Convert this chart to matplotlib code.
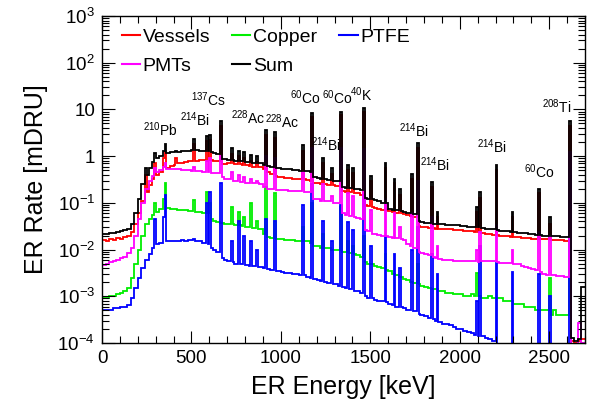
import numpy as np
import matplotlib

matplotlib.use("Agg")

import matplotlib.pyplot as plt
from matplotlib.ticker import FuncFormatter, LogLocator, MultipleLocator, NullFormatter

plt.rcParams["font.family"] = ["Liberation Sans", "DejaVu Sans"]
plt.rcParams["mathtext.fontset"] = "custom"
plt.rcParams["mathtext.rm"] = "Liberation Sans"
plt.rcParams["mathtext.it"] = "Liberation Sans:italic"
plt.rcParams["mathtext.bf"] = "Liberation Sans:bold"

BIN_KEV = 10
E_MAX = 2700

# continuum rates [mDRU], one value per 20 keV (two histogram bins each)
SUM_CONT = [
    0.022, 0.022, 0.023, 0.023, 0.024, 0.025, 0.026, 0.028, 0.035, 0.06,
    0.12, 0.25, 0.4, 0.55, 0.75, 0.9, 1.0, 1.1, 1.15, 1.2,
    1.22, 1.25, 1.27, 1.3, 1.32, 1.33, 1.33, 1.32, 1.3, 1.28,
    1.22, 1.15, 1.1, 0.88, 0.85, 0.82, 0.82, 0.8, 0.8, 0.78,
    0.76, 0.75, 0.72, 0.72, 0.7, 0.66, 0.62, 0.6, 0.56, 0.55,
    0.54, 0.53, 0.52, 0.5, 0.5, 0.49, 0.48, 0.47, 0.46, 0.36,
    0.34, 0.33, 0.32, 0.31, 0.3, 0.3, 0.29, 0.22, 0.21, 0.21,
    0.2, 0.2, 0.19, 0.13, 0.12, 0.12, 0.115, 0.11, 0.1, 0.1,
    0.075, 0.072, 0.07, 0.068, 0.065, 0.062, 0.06, 0.058, 0.04, 0.038,
    0.037, 0.037, 0.036, 0.036, 0.035, 0.035, 0.034, 0.034, 0.033, 0.033,
    0.032, 0.032, 0.031, 0.031, 0.03, 0.03, 0.029, 0.028, 0.028, 0.027,
    0.026, 0.025, 0.025, 0.025, 0.024, 0.024, 0.023, 0.023, 0.023, 0.022,
    0.022, 0.021, 0.021, 0.02, 0.02, 0.02, 0.02, 0.02, 0.019, 0.019,
    0.019, 0.00013, 0.00011, 0.00012, 0.0016,
]
VESSELS_CONT = [
    0.016, 0.015, 0.017, 0.016, 0.018, 0.017, 0.019, 0.02, 0.024, 0.035,
    0.06, 0.11, 0.17, 0.24, 0.32, 0.4, 0.46, 0.52, 0.57, 0.62,
    0.66, 0.7, 0.72, 0.75, 0.77, 0.79, 0.8, 0.82, 0.83, 0.84,
    0.83, 0.8, 0.78, 0.68, 0.68, 0.7, 0.7, 0.68, 0.68, 0.66,
    0.65, 0.62, 0.6, 0.6, 0.58, 0.52, 0.45, 0.42, 0.38, 0.36,
    0.35, 0.34, 0.34, 0.33, 0.33, 0.32, 0.32, 0.31, 0.3, 0.27,
    0.26, 0.25, 0.25, 0.24, 0.24, 0.23, 0.23, 0.18, 0.17, 0.17,
    0.16, 0.16, 0.15, 0.09, 0.085, 0.08, 0.078, 0.075, 0.072, 0.07,
    0.066, 0.064, 0.062, 0.06, 0.058, 0.055, 0.052, 0.05, 0.032, 0.03,
    0.03, 0.029, 0.029, 0.028, 0.028, 0.028, 0.027, 0.027, 0.026, 0.026,
    0.026, 0.025, 0.025, 0.025, 0.024, 0.024, 0.023, 0.022, 0.022, 0.021,
    0.021, 0.02, 0.02, 0.02, 0.019, 0.019, 0.019, 0.018, 0.018, 0.018,
    0.017, 0.017, 0.017, 0.017, 0.017, 0.016, 0.016, 0.016, 0.016, 0.015,
    0.015, 0.00011, 0.0001, 0.00011, 0.00012,
]
PMTS_CONT = [
    0.0047, 0.005, 0.0053, 0.0056, 0.006, 0.0065, 0.007, 0.0085, 0.011, 0.02,
    0.045, 0.1, 0.2, 0.3, 0.38, 0.45, 0.5, 0.52, 0.53, 0.53,
    0.52, 0.52, 0.51, 0.5, 0.5, 0.49, 0.48, 0.47, 0.46, 0.45,
    0.44, 0.44, 0.43, 0.35, 0.33, 0.32, 0.3, 0.29, 0.28, 0.28,
    0.27, 0.27, 0.26, 0.26, 0.25, 0.22, 0.2, 0.2, 0.19, 0.19,
    0.19, 0.19, 0.18, 0.18, 0.18, 0.18, 0.17, 0.17, 0.17, 0.12,
    0.12, 0.11, 0.11, 0.11, 0.1, 0.1, 0.1, 0.06, 0.055, 0.052,
    0.05, 0.048, 0.045, 0.026, 0.025, 0.022, 0.022, 0.021, 0.02, 0.02,
    0.019, 0.018, 0.018, 0.017, 0.016, 0.013, 0.012, 0.011, 0.009, 0.0085,
    0.008, 0.0075, 0.007, 0.0065, 0.0062, 0.006, 0.006, 0.006, 0.0058, 0.0058,
    0.0058, 0.0057, 0.0057, 0.0056, 0.0056, 0.0055, 0.0058, 0.0057, 0.0056, 0.0056,
    0.0055, 0.0052, 0.0052, 0.0051, 0.0051, 0.005, 0.005, 0.0045, 0.0042, 0.004,
    0.0038, 0.0036, 0.0033, 0.003, 0.0029, 0.0028, 0.0028, 0.0027, 0.0027, 0.0026,
    0.0026, 0.0, 0.0, 0.00027, 0.0001,
]
COPPER_CONT = [
    0.0009, 0.0009, 0.001, 0.001, 0.0011, 0.0012, 0.0013, 0.0015, 0.0025, 0.005,
    0.01, 0.02, 0.035, 0.045, 0.055, 0.065, 0.075, 0.08, 0.078, 0.075,
    0.074, 0.072, 0.07, 0.07, 0.068, 0.066, 0.065, 0.064, 0.062, 0.06,
    0.045, 0.04, 0.038, 0.037, 0.036, 0.035, 0.035, 0.034, 0.033, 0.032,
    0.031, 0.03, 0.029, 0.028, 0.027, 0.022, 0.019, 0.018, 0.017, 0.017,
    0.017, 0.016, 0.016, 0.016, 0.015, 0.015, 0.015, 0.015, 0.014, 0.012,
    0.012, 0.011, 0.011, 0.011, 0.01, 0.01, 0.01, 0.009, 0.009, 0.0085,
    0.008, 0.0075, 0.007, 0.0055, 0.005, 0.0048, 0.0045, 0.0042, 0.004, 0.0037,
    0.0035, 0.003, 0.0028, 0.0026, 0.0024, 0.0022, 0.002, 0.0019, 0.0018, 0.0017,
    0.0016, 0.0015, 0.0014, 0.0014, 0.0013, 0.0013, 0.0012, 0.0012, 0.0011, 0.0011,
    0.0011, 0.001, 0.001, 0.0011, 0.001, 0.001, 0.0009, 0.0009, 0.001, 0.0009,
    0.0009, 0.0009, 0.0008, 0.0008, 0.0008, 0.0007, 0.0007, 0.0007, 0.0006, 0.0006,
    0.0006, 0.0005, 0.0005, 0.0005, 0.0005, 0.0004, 0.0005, 0.0004, 0.0004, 0.0004,
    0.0004, 0.0, 0.0, 0.0, 0.0,
]
PTFE_CONT = [
    0.0005, 0.0005, 0.00052, 0.00055, 0.00055, 0.0006, 0.0006, 0.00065, 0.0009, 0.0015,
    0.0025, 0.004, 0.006, 0.008, 0.011, 0.013, 0.014, 0.014, 0.015, 0.015,
    0.015, 0.015, 0.016, 0.015, 0.016, 0.016, 0.015, 0.015, 0.014, 0.013,
    0.011, 0.01, 0.009, 0.0065, 0.006, 0.0058, 0.0055, 0.005, 0.005, 0.0048,
    0.0047, 0.0045, 0.0044, 0.0042, 0.0042, 0.004, 0.0038, 0.0036, 0.0035, 0.0034,
    0.0033, 0.0032, 0.0032, 0.003, 0.003, 0.0029, 0.0028, 0.0026, 0.0025, 0.0023,
    0.0022, 0.0021, 0.002, 0.0019, 0.0018, 0.0018, 0.0017, 0.0016, 0.0015, 0.0014,
    0.0013, 0.0013, 0.0012, 0.001, 0.0009, 0.0009, 0.00085, 0.0008, 0.00078, 0.00075,
    0.0007, 0.00065, 0.0006, 0.00058, 0.00055, 0.00052, 0.0005, 0.00048, 0.00042, 0.0004,
    0.00038, 0.00035, 0.00033, 0.0003, 0.00028, 0.00026, 0.00025, 0.00024, 0.00022, 0.0002,
    0.0002, 0.00018, 0.00017, 0.00016, 0.00015, 0.00014, 0.00014, 0.00013, 0.00012, 0.00011,
    0.0, 0.0, 0.0, 0.0, 0.0, 0.0, 0.0, 0.0, 0.0, 0.0,
    0.0, 0.0, 0.0, 0.0, 0.0, 0.0, 0.0, 0.0, 0.0, 0.0,
    0.0, 0.0, 0.0, 0.0, 0.0,
]

# gamma lines [keV] and the content of the bin holding each line (0 = no peak)
PEAK_KEV = [240, 295, 340, 352, 410, 511, 583, 609, 662, 727,
            768, 795, 835, 860, 911, 969, 1120, 1173, 1238, 1280,
            1332, 1378, 1408, 1461, 1509, 1588, 1630, 1661, 1730, 1764,
            1847, 1873, 2090, 2118, 2204, 2293, 2448, 2505, 2614]
SUM_PEAK = [0.55, 1.15, 1.3, 1.8, 1.3, 2.3, 2.7, 2.9, 5.7, 1.5,
            1.3, 1.2, 1.05, 1.0, 3.7, 3.3, 1.7, 8.5, 0.9, 0.55,
            9.0, 0.64, 0.56, 10.5, 0.38, 0.72, 0.33, 0.2, 0.42, 1.9,
            0.28, 0.065, 0.08, 0.17, 0.65, 0.063, 0.2, 0.05, 5.7]
VESSELS_PEAK = [0.4, 0.7, 0.9, 1.3, 0.9, 1.8, 2.1, 2.2, 4.5, 1.1,
                1.0, 0.9, 0.8, 0.75, 2.8, 2.5, 1.3, 7.0, 0.7, 0.42,
                7.5, 0.5, 0.43, 9.0, 0.3, 0.55, 0.26, 0.15, 0.33, 1.5,
                0.22, 0.05, 0.065, 0.13, 0.5, 0.05, 0.16, 0.035, 4.5]
PMTS_PEAK = [0, 0.55, 0.6, 0.7, 0, 0.6, 0.8, 0.9, 1.0, 0.45,
             0.4, 0.35, 0.33, 0.3, 1.0, 0.9, 0.45, 1.5, 0.25, 0.14,
             1.5, 0.16, 0.14, 1.4, 0.07, 0.12, 0.06, 0.03, 0.06, 0.3,
             0.05, 0.012, 0.01, 0.024, 0.034, 0.0096, 0.024, 0.02, 1.2]
COPPER_PEAK = [0, 0.1, 0.12, 0.27, 0, 0.115, 0.17, 0.1, 0, 0.08,
               0.065, 0.05, 0.1, 0.04, 0.22, 0.16, 0.03, 0.1, 0.022, 0,
               0.08, 0.015, 0.012, 0.02, 0, 0.008, 0, 0, 0, 0.005,
               0, 0, 0.0032, 0, 0, 0, 0, 0.0025, 0.05]
PTFE_PEAK = [0, 0.046, 0.05, 0.146, 0, 0.017, 0.1, 0.17, 0.26, 0.015,
             0.04, 0.02, 0.015, 0.01, 0.046, 0.04, 0.09, 0.25, 0.04, 0.015,
             0.09, 0.038, 0.026, 0.15, 0.012, 0.02, 0.008, 0.004, 0.01, 0.03,
             0.008, 0.003, 0.0008, 0.0118, 0.0051, 0.0033, 0.003, 0.001, 0.5]

# isotope labels: (text, energy keV, rate mDRU)
LABELS = [
    (r"$^{210}$Pb", 325, 3.6),
    (r"$^{214}$Bi", 520, 5.9),
    (r"$^{137}$Cs", 595, 15.8),
    (r"$^{228}$Ac", 817, 6.5),
    (r"$^{228}$Ac", 1007, 5.4),
    (r"$^{60}$Co", 1135, 17.5),
    (r"$^{214}$Bi", 1252, 1.73),
    (r"$^{60}$Co", 1313, 17.5),
    (r"$^{40}$K", 1449, 20.3),
    (r"$^{214}$Bi", 1743, 3.5),
    (r"$^{214}$Bi", 1863, 0.64),
    (r"$^{214}$Bi", 2181, 1.59),
    (r"$^{60}$Co", 2444, 0.46),
    (r"$^{208}$Ti", 2544, 11.4),
]

SERIES = [
    ("Vessels", VESSELS_CONT, VESSELS_PEAK, "#ff0000"),
    ("Copper", COPPER_CONT, COPPER_PEAK, "#00ee00"),
    ("PTFE", PTFE_CONT, PTFE_PEAK, "#0000ff"),
    ("PMTs", PMTS_CONT, PMTS_PEAK, "#ff00ff"),
    ("Sum", SUM_CONT, SUM_PEAK, "#000000"),
]


def build_histogram(continuum, peaks):
    values = np.repeat(np.asarray(continuum, dtype=float), 2)
    for energy, rate in zip(PEAK_KEV, peaks):
        if rate > 0:
            values[energy // BIN_KEV] = rate
    # empty bins sit below the plotted floor, as in the original histogram
    return np.clip(values, 1e-6, None)


def decade_label(value, _pos):
    exponent = int(round(np.log10(value)))
    if exponent == 0:
        return "1"
    if exponent == 1:
        return "10"
    return rf"$10^{{{exponent}}}$"


fig = plt.figure(figsize=(5.92, 4.04), dpi=100)
ax = fig.add_axes([102 / 592, 61 / 404, 483 / 592, 327 / 404])

edges = np.arange(0, E_MAX + BIN_KEV, BIN_KEV)
lines = {}
for name, continuum, peaks, color in SERIES:
    values = build_histogram(continuum, peaks)
    ax.stairs(values, edges, baseline=None, color=color, linewidth=1.3)
    lines[name] = plt.Line2D([], [], color=color, linewidth=1.5)

ax.set_yscale("log")
ax.set_xlim(0, E_MAX)
ax.set_ylim(1e-4, 1e3)

ax.xaxis.set_major_locator(MultipleLocator(500))
ax.xaxis.set_minor_locator(MultipleLocator(100))
ax.yaxis.set_major_locator(LogLocator(base=10, numticks=20))
ax.yaxis.set_minor_locator(LogLocator(base=10, subs=np.arange(2, 10), numticks=20))
ax.yaxis.set_major_formatter(FuncFormatter(decade_label))
ax.yaxis.set_minor_formatter(NullFormatter())
ax.tick_params(which="both", direction="in", top=True, right=True, labelsize=13.5, width=0.8)
ax.tick_params(which="major", length=9, pad=5)
ax.tick_params(which="minor", length=5)
for spine in ax.spines.values():
    spine.set_linewidth(1.0)

ax.set_xlabel("ER Energy [keV]", fontsize=18)
ax.set_ylabel("ER Rate [mDRU]", fontsize=18)
ax.xaxis.set_label_coords(0.5, -0.098)
ax.yaxis.set_label_coords(-0.112, 0.5)

for text, energy, rate in LABELS:
    ax.text(energy, rate, text, fontsize=10, ha="center", va="center")

order = ["Vessels", "PMTs", "Copper", "Sum", "PTFE"]
ax.legend(
    [lines[n] for n in order],
    order,
    ncol=3,
    loc="upper left",
    bbox_to_anchor=(0.041, 0.963),
    frameon=False,
    fontsize=14,
    borderpad=0,
    borderaxespad=0,
    handlelength=0.93,
    handletextpad=0.15,
    columnspacing=1.13,
    labelspacing=0.6,
)

fig.savefig("out.png", dpi=100)
